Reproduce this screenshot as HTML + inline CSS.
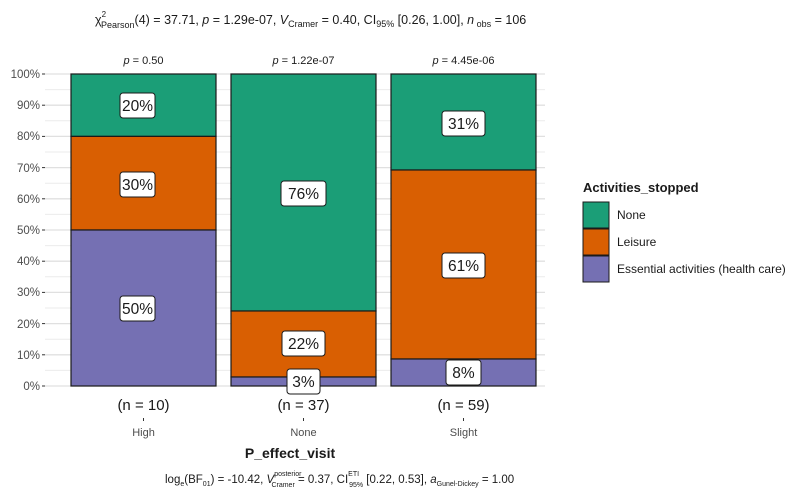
<!DOCTYPE html><html><head><style>body{margin:0;background:#fff}svg{display:block;font-family:"Liberation Sans",Arial,sans-serif}</style></head><body>
<svg width="800" height="498" viewBox="0 0 800 498" xmlns="http://www.w3.org/2000/svg">
<g stroke="#ebebeb" stroke-width="1">
<line x1="45" x2="545" y1="89.6" y2="89.6"/><line x1="45" x2="545" y1="120.8" y2="120.8"/><line x1="45" x2="545" y1="152" y2="152"/><line x1="45" x2="545" y1="183.2" y2="183.2"/><line x1="45" x2="545" y1="214.4" y2="214.4"/><line x1="45" x2="545" y1="245.6" y2="245.6"/><line x1="45" x2="545" y1="276.8" y2="276.8"/><line x1="45" x2="545" y1="308" y2="308"/><line x1="45" x2="545" y1="339.2" y2="339.2"/><line x1="45" x2="545" y1="370.4" y2="370.4"/>
</g>
<g stroke="#e0e0e0" stroke-width="1.3">
<line x1="45" x2="545" y1="74" y2="74"/><line x1="45" x2="545" y1="105.2" y2="105.2"/><line x1="45" x2="545" y1="136.4" y2="136.4"/><line x1="45" x2="545" y1="167.6" y2="167.6"/><line x1="45" x2="545" y1="198.8" y2="198.8"/><line x1="45" x2="545" y1="230" y2="230"/><line x1="45" x2="545" y1="261.2" y2="261.2"/><line x1="45" x2="545" y1="292.4" y2="292.4"/><line x1="45" x2="545" y1="323.6" y2="323.6"/><line x1="45" x2="545" y1="354.8" y2="354.8"/><line x1="45" x2="545" y1="386" y2="386"/>
</g>
<g fill="#4d4d4d" font-size="11.5" text-anchor="end">
<text x="40" y="78">100%</text><text x="40" y="109">90%</text><text x="40" y="140">80%</text><text x="40" y="172">70%</text><text x="40" y="203">60%</text><text x="40" y="234">50%</text><text x="40" y="265">40%</text><text x="40" y="296">30%</text><text x="40" y="328">20%</text><text x="40" y="359">10%</text><text x="40" y="390">0%</text>
</g>
<g stroke="#333" stroke-width="1"><line x1="42" x2="45" y1="74" y2="74"/><line x1="42" x2="45" y1="105.2" y2="105.2"/><line x1="42" x2="45" y1="136.4" y2="136.4"/><line x1="42" x2="45" y1="167.6" y2="167.6"/><line x1="42" x2="45" y1="198.8" y2="198.8"/><line x1="42" x2="45" y1="230" y2="230"/><line x1="42" x2="45" y1="261.2" y2="261.2"/><line x1="42" x2="45" y1="292.4" y2="292.4"/><line x1="42" x2="45" y1="323.6" y2="323.6"/><line x1="42" x2="45" y1="354.8" y2="354.8"/><line x1="42" x2="45" y1="386" y2="386"/>
<line x1="143.5" x2="143.5" y1="418" y2="421"/><line x1="303.5" x2="303.5" y1="418" y2="421"/><line x1="463.5" x2="463.5" y1="418" y2="421"/></g>
<g stroke="#1a1a1a" stroke-width="1.2">
<rect x="71" y="74" width="145" height="62.4" fill="#1b9e77"/>
<rect x="71" y="136.4" width="145" height="93.6" fill="#d95f02"/>
<rect x="71" y="230" width="145" height="156" fill="#7570b3"/>
<rect x="231" y="74" width="145" height="237" fill="#1b9e77"/>
<rect x="231" y="311" width="145" height="66" fill="#d95f02"/>
<rect x="231" y="377" width="145" height="9" fill="#7570b3"/>
<rect x="391" y="74" width="145" height="96" fill="#1b9e77"/>
<rect x="391" y="170" width="145" height="189" fill="#d95f02"/>
<rect x="391" y="359" width="145" height="27" fill="#7570b3"/>
</g>
<g font-size="15.5" text-anchor="middle" fill="#1a1a1a">
<g stroke="#1a1a1a" fill="#fff" stroke-width="1"><rect x="120" y="93" width="35" height="25" rx="3"/><rect x="120" y="172" width="35" height="25" rx="3"/><rect x="120" y="296" width="35" height="25" rx="3"/>
<rect x="281" y="181" width="45" height="25" rx="3"/><rect x="282" y="331" width="43" height="25" rx="3"/><rect x="287" y="369" width="33" height="25" rx="3"/>
<rect x="442" y="111" width="43" height="25" rx="3"/><rect x="442" y="253" width="43" height="25" rx="3"/><rect x="446" y="360" width="35" height="25" rx="3"/></g>
<text x="137.5" y="111">20%</text><text x="137.5" y="190">30%</text><text x="137.5" y="314">50%</text>
<text x="303.5" y="199">76%</text><text x="303.5" y="349">22%</text><text x="303.5" y="387">3%</text>
<text x="463.5" y="129">31%</text><text x="463.5" y="271">61%</text><text x="463.5" y="378">8%</text>
<text x="143.5" y="410" font-size="15">(n = 10)</text><text x="303.5" y="410" font-size="15">(n = 37)</text><text x="463.5" y="410" font-size="15">(n = 59)</text>
</g>
<g font-size="11" text-anchor="middle" fill="#4d4d4d"><text x="143.5" y="436">High</text><text x="303.5" y="436">None</text><text x="463.5" y="436">Slight</text></g>
<g font-size="11" text-anchor="middle" fill="#1a1a1a"><text x="143.5" y="64"><tspan font-style="italic">p</tspan> = 0.50</text><text x="303.5" y="64"><tspan font-style="italic">p</tspan> = 1.22e-07</text><text x="463.5" y="64"><tspan font-style="italic">p</tspan> = 4.45e-06</text></g>
<text x="290" y="458" font-size="14" font-weight="bold" text-anchor="middle" fill="#1a1a1a">P_effect_visit</text>
<text x="95" y="24" font-size="12.5" fill="#1a1a1a">χ<tspan font-size="8" dy="-7">2</tspan><tspan font-size="9" dy="11" dx="-5">Pearson</tspan><tspan dy="-4">(4) = 37.71, </tspan><tspan font-style="italic">p</tspan> = 1.29e-07, <tspan font-style="italic">V</tspan><tspan font-size="9" dy="3">Cramer</tspan><tspan dy="-3"> = 0.40, CI</tspan><tspan font-size="9" dy="3">95%</tspan><tspan dy="-3"> [0.26, 1.00], </tspan><tspan font-style="italic">n</tspan><tspan font-size="9" dy="3"> obs</tspan><tspan dy="-3"> = 106</tspan></text>
<text x="165" y="483" font-size="11.5" fill="#1a1a1a">log<tspan font-size="7" dy="3">e</tspan><tspan dy="-3">(BF</tspan><tspan font-size="7" dy="3">01</tspan><tspan dy="-3">) = -10.42, </tspan><tspan font-style="italic">V</tspan><tspan font-size="7" dy="-7">posterior</tspan><tspan font-size="7" dy="11" dx="-30">Cramer</tspan><tspan dy="-4"> = 0.37, CI</tspan><tspan font-size="7" dy="-7">ETI</tspan><tspan font-size="7" dy="11" dx="-10">95%</tspan><tspan dy="-4"> [0.22, 0.53], </tspan><tspan font-style="italic">a</tspan><tspan font-size="7" dy="3">Gunel-Dickey</tspan><tspan dy="-3"> = 1.00</tspan></text>
<text x="583" y="192" font-size="13" font-weight="bold" fill="#1a1a1a">Activities_stopped</text>
<g stroke="#1a1a1a" stroke-width="1"><rect x="583" y="202" width="26" height="26" fill="#1b9e77"/><rect x="583" y="229" width="26" height="26" fill="#d95f02"/><rect x="583" y="256" width="26" height="26" fill="#7570b3"/></g>
<g font-size="12" fill="#1a1a1a"><text x="617" y="219">None</text><text x="617" y="246">Leisure</text><text x="617" y="273">Essential activities (health care)</text></g>
</svg></body></html>
